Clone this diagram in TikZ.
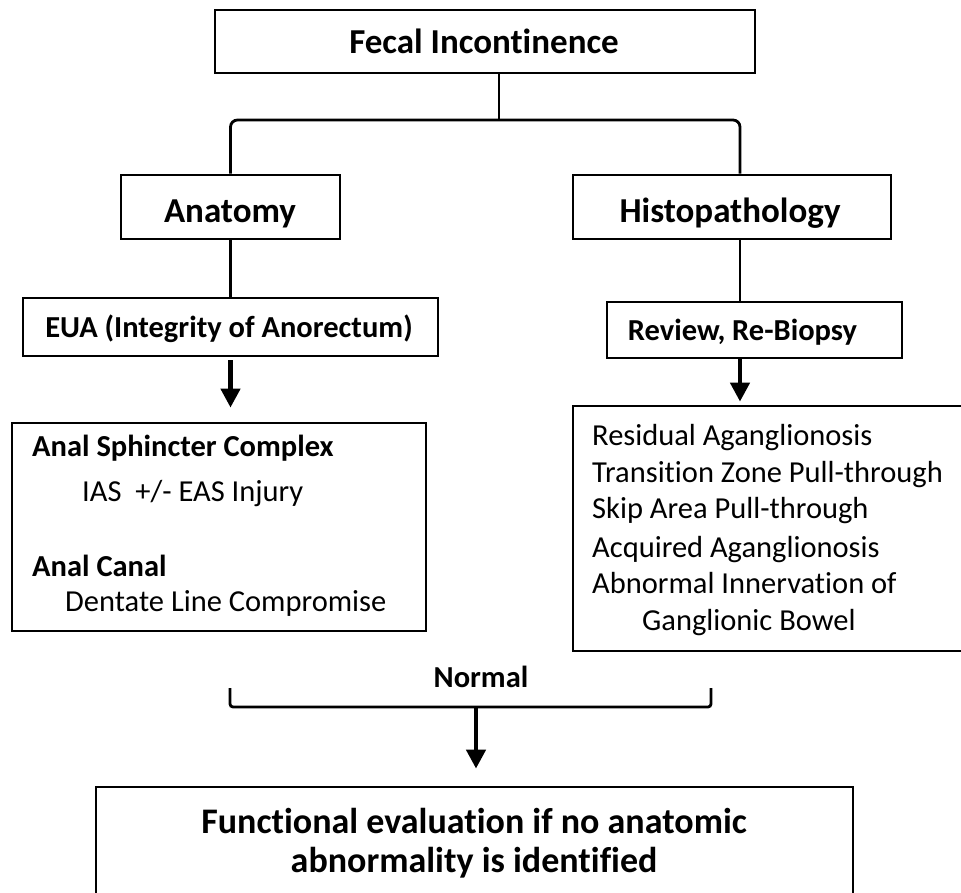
\documentclass[tikz,border=0pt]{standalone}
\usepackage{fontspec}
\setmainfont{Carlito}[Ligatures=NoCommon]
\usetikzlibrary{arrows.meta}
\tikzset{
  box/.style={draw, line width=2.8pt, inner sep=0pt, fill=white},
  conn/.style={line width=2.8pt},
  arr/.style={line width=4.5pt, -{Triangle[width=19pt,length=19pt]}},
  bigtxt/.style={font=\fontsize{35}{42}\selectfont\bfseries, inner sep=0pt, anchor=base},
  midtxt/.style={font=\fontsize{30.5}{36}\selectfont\bfseries, inner sep=0pt, anchor=base},
  headtxt/.style={font=\fontsize{30.5}{36}\selectfont\bfseries, inner sep=0pt, anchor=base west},
  itemtxt/.style={font=\fontsize{30.5}{36}\selectfont, inner sep=0pt, anchor=base west},
  endtxt/.style={font=\fontsize{36}{42}\selectfont\bfseries, inner sep=0pt, anchor=base}
}
\begin{document}
\begin{tikzpicture}[x=1pt,y=-1pt]
\useasboundingbox (0,0) rectangle (961,892);
\fill[white] (0,0) rectangle (961,892);
\clip (0,0) rectangle (961,892);

% boxes
\node[box, minimum width=540pt, minimum height=63pt] (fecal) at (485,41.5) {};
\node[box, minimum width=219pt, minimum height=64pt] (anat) at (230.5,207) {};
\node[box, minimum width=318pt, minimum height=64pt] (histo) at (732,207) {};
\node[box, minimum width=415pt, minimum height=58pt] (eua) at (230.5,327) {};
\node[box, minimum width=295pt, minimum height=56pt] (review) at (754.5,330) {};
\node[box, minimum width=414pt, minimum height=208pt] (leftbox) at (219,527) {};
\node[box, minimum width=393pt, minimum height=245pt] (rightbox) at (769.5,528.5) {};
\node[box, minimum width=757pt, minimum height=113pt] (final) at (474.5,843.5) {};

% texts
\node[bigtxt] (tfecal) at (484,53) {Fecal Incontinence};
\node[bigtxt] (tanat) at (230,222) {Anatomy};
\node[bigtxt] (thisto) at (730,222) {Histopathology};
\node[midtxt] (teua) at (229,337) {EUA (Integrity of Anorectum)};
\node[midtxt] (treview) at (742.5,340) {Review, Re-Biopsy};

\node[headtxt] (l1) at (32,456) {Anal Sphincter Complex};
\node[itemtxt] (l2) at (82,501) {IAS\ \ +/- EAS Injury};
\node[headtxt] (l3) at (32,576) {Anal Canal};
\node[itemtxt] (l4) at (65,611) {Dentate Line Compromise};

\node[itemtxt] (r1) at (592,445) {Residual Aganglionosis};
\node[itemtxt] (r2) at (592,482) {Transition Zone Pull-through};
\node[itemtxt] (r3) at (592,518) {Skip Area Pull-through};
\node[itemtxt] (r4) at (592,557) {Acquired Aganglionosis};
\node[itemtxt] (r5) at (592,593) {Abnormal Innervation of};
\node[itemtxt] (r6) at (642,630) {Ganglionic Bowel};

\node[midtxt] (tnormal) at (481,687) {Normal};
\node[endtxt] (tf1) at (474,833) {Functional evaluation if no anatomic};
\node[endtxt] (tf2) at (474,872) {abnormality is identified};

% connectors
\coordinate (tj) at (499,120);
\coordinate (hx) at (740,0);
\draw[conn] (fecal.south -| tj) -- (tj);
\draw[conn, rounded corners=7pt] (anat.north) |- (tj) -| (histo.north -| hx);
\draw[conn] (anat.south) -- (eua.north);
\draw[conn] (histo.south -| hx) -- (review.north -| hx);
\draw[arr, shorten <=3pt, shorten >=14pt] (eua.south) -- (leftbox.north -| eua.south);
\draw[arr, shorten >=3pt] (review.south -| hx) -- (rightbox.north -| hx);

\coordinate (nb1) at (230,688);
\coordinate (nb2) at (711,688);
\coordinate (nj) at (476,707);
\draw[conn, rounded corners=3pt] (nb1) |- (nj) -| (nb2);
\draw[arr, shorten >=17pt] (nj) -- (final.north -| nj);
\end{tikzpicture}
\end{document}
